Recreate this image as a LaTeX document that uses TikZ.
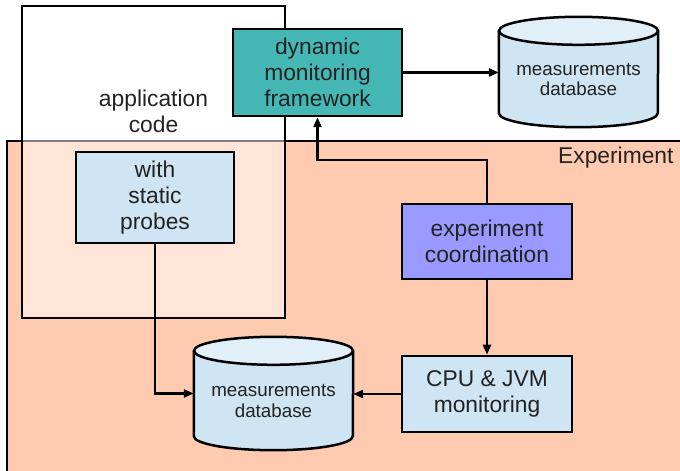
\documentclass[tikz,border=0pt]{standalone}
\usepackage{fontspec}
\setmainfont{Liberation Sans}
\usetikzlibrary{arrows.meta}
\definecolor{peach}{HTML}{FFCBB0}
\definecolor{tealbox}{HTML}{45B8B5}
\definecolor{purplebox}{HTML}{9999FF}
\definecolor{lightbluebox}{HTML}{CFE5F3}
\definecolor{dbtop}{HTML}{E1EFF9}
\definecolor{textgray}{HTML}{222222}
\tikzset{
  txt/.style={font=\fontsize{22.8}{25.8}\selectfont, text=textgray, align=center},
  box/.style={txt, draw=black, line width=2.5pt, inner sep=0pt},
  dbtxt/.style={font=\fontsize{18.8}{20.5}\selectfont, text=textgray, align=center},
  dbline/.style={draw=black, line width=2.5pt},
  conn/.style={line width=2.4pt, -{Triangle[length=10pt,width=8pt]}},
}
\begin{document}
\begin{tikzpicture}[x=1pt,y=1pt]
\useasboundingbox (0,0) rectangle (680,471);
\clip (0,0) rectangle (680,471);
\fill[white] (0,0) rectangle (680,471);
% Experiment region
\draw[line width=2pt, fill=peach] (7,-20) rectangle (700,330);
\node[txt, anchor=east] (explabel) at (677,313) {Experiment};
% application code box
\draw[line width=2.5pt, fill=white, fill opacity=0.5] (22,153) rectangle (285,465);
\node[txt] (applabel) at (153.5,360) {application\\code};
% boxes
\node[box, fill=lightbluebox, minimum width=158, minimum height=91] (probes) at (155,273.5) {with\\static\\probes};
\node[box, fill=tealbox, minimum width=169, minimum height=87] (dmf) at (317.5,398.5) {dynamic\\monitoring\\framework};
\node[box, fill=purplebox, minimum width=170, minimum height=75] (coord) at (487,229.5) {experiment\\coordination};
\node[box, fill=lightbluebox, minimum width=170, minimum height=76] (cpu) at (487,77) {CPU \& JVM\\monitoring};
% database 1
\node[inner sep=0pt, minimum width=159, minimum height=110] (db1) at (578.5,399) {};
\draw[dbline, fill=lightbluebox] ([yshift=-14pt]db1.north west) -- ([yshift=14pt]db1.south west)
  arc[start angle=180, end angle=360, x radius=79.5pt, y radius=14pt] -- ([yshift=-14pt]db1.north east);
\draw[dbline, fill=dbtop] ([yshift=-14pt]db1.north) ellipse[x radius=79.5pt, y radius=14pt];
\node[dbtxt] (db1t) at (578.5,391.5) {measurements\\database};
% database 2
\node[inner sep=0pt, minimum width=159, minimum height=113] (db2) at (273.5,77.5) {};
\draw[dbline, fill=lightbluebox] ([yshift=-14pt]db2.north west) -- ([yshift=14pt]db2.south west)
  arc[start angle=180, end angle=360, x radius=79.5pt, y radius=14pt] -- ([yshift=-14pt]db2.north east);
\draw[dbline, fill=dbtop] ([yshift=-14pt]db2.north) ellipse[x radius=79.5pt, y radius=14pt];
\node[dbtxt] (db2t) at (273.5,70) {measurements\\database};
% connectors
\draw[conn] (dmf.east) -- (dmf.east -| db1.west);
\draw[conn] (probes.south) |- (db2.west);
\draw[conn] (coord.south) -- (cpu.north);
\draw[conn] (cpu.west) -- (cpu.west -| db2.east);
\coordinate (bend) at (317.5,311);
\draw[conn] (coord.north) |- (bend) -- (dmf.south);
\end{tikzpicture}
\end{document}
